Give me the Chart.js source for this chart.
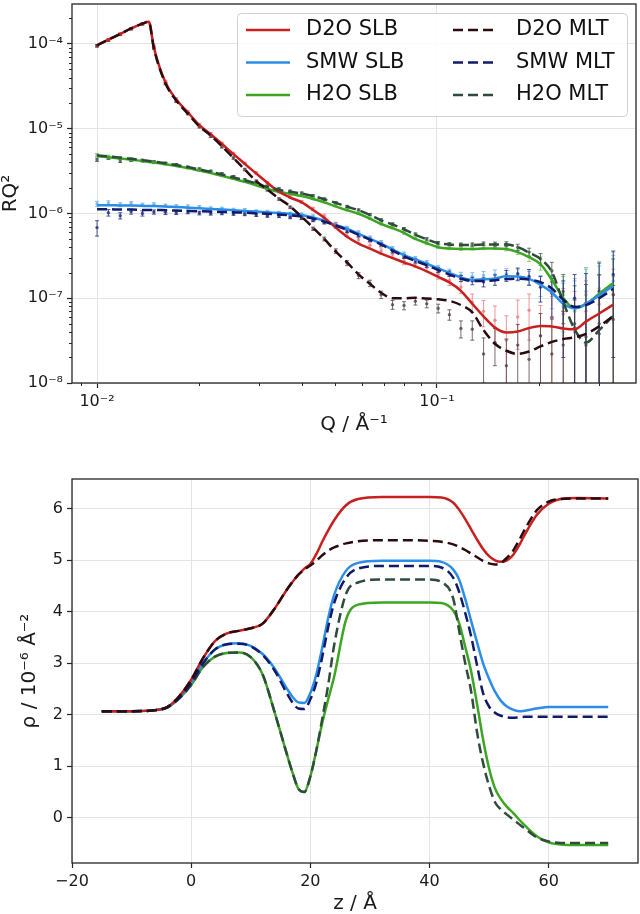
<!DOCTYPE html>
<html>
<head>
<meta charset="utf-8">
<script src="https://cdn.jsdelivr.net/npm/chart.js@4.4.1/dist/chart.umd.min.js"></script>
<style>
  html, body { margin: 0; padding: 0; background: #fff; }
  #wrap { position: relative; width: 640px; height: 914px; }
  #top { position: absolute; left: 0; top: 0; }
  #bottom { position: absolute; left: 0; top: 440px; }
</style>
</head>
<body>
<div id="wrap">
  <canvas id="top" width="640" height="440"></canvas>
  <canvas id="bottom" width="640" height="474"></canvas>
</div>
<script>
// --- reflectivity: model curves (RQ^2 vs Q) ---
const qModel = [0.0100,0.0108,0.0117,0.0126,0.0136,0.0142,0.0147,0.0159,0.0171,0.0185,0.0200,0.0216,0.0233,0.0252,0.0272,0.0294,0.0317,0.0343,0.0370,0.0400,0.0432,0.0466,0.0504,0.0544,0.0588,0.0635,0.0685,0.0740,0.0800,0.0864,0.0933,0.1008,0.1088,0.1176,0.1270,0.1371,0.1481,0.1600,0.1728,0.1866,0.2016,0.2177,0.2352,0.2540,0.2743,0.3000,0.3300];
const d2oSlbFit = [9.6e-5,1.12e-4,1.31e-4,1.52e-4,1.73e-4,1.82e-4,9.0e-5,3.5e-5,2.2e-5,1.56e-5,1.1e-5,8.6e-6,6.6e-6,5.0e-6,3.85e-6,2.95e-6,2.3e-6,1.8e-6,1.54e-6,1.35e-6,1.1e-6,8.9e-7,6.8e-7,5.3e-7,4.4e-7,3.85e-7,3.36e-7,2.98e-7,2.64e-7,2.37e-7,2.07e-7,1.78e-7,1.54e-7,1.22e-7,8.6e-8,6.1e-8,4.5e-8,3.95e-8,4.05e-8,4.45e-8,4.7e-8,4.65e-8,4.4e-8,4.3e-8,5.3e-8,6.6e-8,8.4e-8];
const smwSlbFit = [1.25e-6,1.25e-6,1.24e-6,1.24e-6,1.23e-6,1.22e-6,1.22e-6,1.21e-6,1.19e-6,1.17e-6,1.15e-6,1.13e-6,1.11e-6,1.09e-6,1.07e-6,1.05e-6,1.03e-6,1.01e-6,9.9e-7,9.6e-7,8.97e-7,8.2e-7,7.3e-7,6.6e-7,5.75e-7,5.0e-7,4.4e-7,3.76e-7,3.23e-7,2.86e-7,2.55e-7,2.25e-7,1.99e-7,1.76e-7,1.65e-7,1.67e-7,1.71e-7,1.81e-7,1.8e-7,1.69e-7,1.44e-7,1.17e-7,8.6e-8,7.6e-8,8.6e-8,1.08e-7,1.4e-7];
const h2oSlbFit = [4.75e-6,4.6e-6,4.45e-6,4.3e-6,4.15e-6,4.05e-6,3.98e-6,3.8e-6,3.62e-6,3.42e-6,3.2e-6,3.0e-6,2.78e-6,2.56e-6,2.36e-6,2.15e-6,1.94e-6,1.8e-6,1.7e-6,1.6e-6,1.48e-6,1.35e-6,1.21e-6,1.09e-6,9.9e-7,8.7e-7,7.5e-7,6.7e-7,5.9e-7,5.0e-7,4.45e-7,4.0e-7,3.85e-7,3.8e-7,3.8e-7,3.85e-7,3.87e-7,3.8e-7,3.5e-7,3.05e-7,2.53e-7,1.65e-7,1.01e-7,7.6e-8,8.5e-8,1.13e-7,1.51e-7];
const d2oMltFit = [9.6e-5,1.12e-4,1.31e-4,1.52e-4,1.73e-4,1.82e-4,8.8e-5,3.4e-5,2.15e-5,1.5e-5,1.06e-5,8.3e-6,6.2e-6,4.5e-6,3.3e-6,2.4e-6,1.91e-6,1.5e-6,1.21e-6,9.1e-7,6.8e-7,5.0e-7,3.55e-7,2.64e-7,1.91e-7,1.48e-7,1.16e-7,1.0e-7,1.0e-7,1.01e-7,9.9e-8,9.7e-8,9.3e-8,8.3e-8,6.8e-8,4.2e-8,2.9e-8,2.4e-8,2.2e-8,2.35e-8,2.7e-8,3.05e-8,3.3e-8,3.45e-8,3.8e-8,4.65e-8,6.2e-8];
const smwMltFit = [1.12e-6,1.12e-6,1.11e-6,1.11e-6,1.1e-6,1.1e-6,1.1e-6,1.09e-6,1.08e-6,1.07e-6,1.06e-6,1.05e-6,1.04e-6,1.03e-6,1.02e-6,1.0e-6,9.9e-7,9.7e-7,9.5e-7,9.2e-7,8.7e-7,8.0e-7,7.2e-7,6.4e-7,5.6e-7,4.9e-7,4.3e-7,3.65e-7,3.12e-7,2.75e-7,2.45e-7,2.15e-7,1.9e-7,1.7e-7,1.6e-7,1.6e-7,1.63e-7,1.68e-7,1.7e-7,1.66e-7,1.55e-7,1.3e-7,9.6e-8,7.9e-8,8.3e-8,1.0e-7,1.29e-7];
const h2oMltFit = [4.85e-6,4.7e-6,4.55e-6,4.4e-6,4.25e-6,4.15e-6,4.08e-6,3.9e-6,3.72e-6,3.52e-6,3.31e-6,3.1e-6,2.88e-6,2.66e-6,2.46e-6,2.26e-6,2.05e-6,1.9e-6,1.8e-6,1.72e-6,1.6e-6,1.47e-6,1.33e-6,1.2e-6,1.09e-6,9.6e-7,8.3e-7,7.4e-7,6.5e-7,5.6e-7,4.95e-7,4.45e-7,4.3e-7,4.25e-7,4.25e-7,4.3e-7,4.3e-7,4.3e-7,4.0e-7,3.45e-7,2.9e-7,2.05e-7,9.0e-8,4.3e-8,3.0e-8,4.2e-8,6.2e-8];

// --- reflectivity: measured points with errors ---
const qData = [0.0100,0.0108,0.0117,0.0126,0.0136,0.0147,0.0159,0.0171,0.0185,0.0200,0.0216,0.0233,0.0252,0.0272,0.0294,0.0317,0.0343,0.0370,0.0400,0.0432,0.0466,0.0504,0.0544,0.0588,0.0635,0.0685,0.0740,0.0800,0.0864,0.0933,0.1008,0.1088,0.1176,0.1270,0.1371,0.1481,0.1600,0.1728,0.1866,0.2016,0.2177,0.2352,0.2540,0.2743,0.3000,0.3300];
const d2oSlbData = [9.4e-5,1.10e-4,1.29e-4,1.50e-4,1.71e-4,9.4e-5,3.6e-5,2.25e-5,1.58e-5,1.12e-5,8.7e-6,6.7e-6,5.1e-6,3.9e-6,3.0e-6,2.3e-6,1.82e-6,1.56e-6,1.37e-6,1.13e-6,9.3e-7,7.3e-7,5.9e-7,4.9e-7,4.2e-7,3.6e-7,3.3e-7,2.75e-7,2.55e-7,2.3e-7,1.9e-7,1.62e-7,1.35e-7,9.0e-8,7.0e-8,5.5e-8,3.2e-8,6.0e-8,7.2e-8,3.6e-8,5.8e-8,6.5e-8,4.0e-8,7.0e-8,8.5e-8,1.1e-7];
const d2oSlbErr = [3e-6,3.5e-6,4e-6,4.5e-6,5e-6,3e-6,1.1e-6,7e-7,4.5e-7,3.4e-7,2.6e-7,2e-7,1.6e-7,1.2e-7,9e-8,7e-8,6e-8,5.5e-8,5e-8,5e-8,5e-8,5e-8,4.5e-8,4e-8,3.5e-8,3.2e-8,3e-8,2.7e-8,2.5e-8,2.3e-8,2.2e-8,2.1e-8,2.1e-8,2.2e-8,2.4e-8,2.6e-8,3e-8,3.5e-8,4e-8,4.6e-8,5.5e-8,6.5e-8,8e-8,9e-8,1.0e-7,1.1e-7];
const smwSlbData = [1.30e-6,1.33e-6,1.27e-6,1.31e-6,1.26e-6,1.28e-6,1.24e-6,1.22e-6,1.21e-6,1.19e-6,1.15e-6,1.14e-6,1.11e-6,1.10e-6,1.06e-6,1.05e-6,1.02e-6,1.0e-6,9.8e-7,9.3e-7,8.5e-7,7.6e-7,6.8e-7,6.0e-7,5.2e-7,4.6e-7,3.9e-7,3.35e-7,2.95e-7,2.65e-7,2.3e-7,2.05e-7,1.85e-7,1.8e-7,1.85e-7,1.9e-7,1.95e-7,1.9e-7,1.75e-7,1.45e-7,1.3e-7,8.0e-8,7.0e-8,1.2e-7,1.1e-7,1.6e-7];
const smwSlbErr = [9e-8,8e-8,7e-8,7e-8,6e-8,6e-8,5e-8,5e-8,5e-8,4.5e-8,4.5e-8,4.5e-8,4e-8,4e-8,4e-8,3.8e-8,3.6e-8,3.5e-8,3.4e-8,3.2e-8,3e-8,2.8e-8,2.6e-8,2.4e-8,2.2e-8,2e-8,1.8e-8,1.6e-8,1.5e-8,1.4e-8,1.4e-8,1.5e-8,1.7e-8,2e-8,2.2e-8,2.5e-8,2.8e-8,3e-8,3.2e-8,4e-8,5.5e-8,7e-8,9e-8,1.1e-7,1.3e-7,1.6e-7];
const h2oSlbData = [4.9e-6,4.7e-6,4.5e-6,4.4e-6,4.2e-6,4.0e-6,3.85e-6,3.7e-6,3.45e-6,3.25e-6,3.05e-6,2.8e-6,2.6e-6,2.4e-6,2.2e-6,1.98e-6,1.8e-6,1.72e-6,1.64e-6,1.5e-6,1.37e-6,1.23e-6,1.11e-6,1.0e-6,8.8e-7,7.6e-7,6.8e-7,5.9e-7,5.1e-7,4.5e-7,4.05e-7,3.9e-7,3.85e-7,3.9e-7,3.95e-7,4.0e-7,3.9e-7,3.6e-7,3.1e-7,2.6e-7,1.6e-7,1.1e-7,8.0e-8,1.1e-7,1.3e-7,1.8e-7];
const h2oSlbErr = [2e-7,1.8e-7,1.7e-7,1.6e-7,1.5e-7,1.4e-7,1.3e-7,1.2e-7,1.1e-7,1.0e-7,9e-8,8.5e-8,8e-8,7.5e-8,7e-8,6.5e-8,6e-8,5.5e-8,5e-8,4.6e-8,4.2e-8,3.8e-8,3.4e-8,3.1e-8,2.8e-8,2.5e-8,2.3e-8,2.1e-8,1.9e-8,1.8e-8,1.7e-8,1.7e-8,1.8e-8,1.9e-8,2.1e-8,2.4e-8,2.8e-8,3.3e-8,3.9e-8,4.6e-8,5.5e-8,7e-8,9e-8,1.1e-7,1.4e-7,1.7e-7];
const d2oMltData = [9.5e-5,1.11e-4,1.30e-4,1.51e-4,1.72e-4,8.9e-5,3.4e-5,2.1e-5,1.5e-5,1.05e-5,8.1e-6,6.1e-6,4.5e-6,3.3e-6,2.4e-6,1.9e-6,1.48e-6,1.18e-6,8.9e-7,6.6e-7,5.0e-7,3.6e-7,2.6e-7,1.85e-7,1.5e-7,1.1e-7,8.4e-8,8.2e-8,9.2e-8,8.6e-8,7.6e-8,6.4e-8,4.4e-8,4.3e-8,2.2e-8,3.0e-8,1.6e-8,2.8e-8,1.9e-8,3.6e-8,2.2e-8,2.8e-8,4.5e-8,2.8e-8,3.8e-8,5.6e-8];
const d2oMltErr = [3e-6,3.5e-6,4e-6,4.5e-6,5e-6,3e-6,1.1e-6,7e-7,4.5e-7,3.3e-7,2.5e-7,1.9e-7,1.5e-7,1.1e-7,8e-8,6.5e-8,5e-8,4.2e-8,3.5e-8,3e-8,2.6e-8,2.2e-8,1.8e-8,1.5e-8,1.3e-8,1.1e-8,1.0e-8,9e-9,9e-9,9e-9,9e-9,9e-9,1.0e-8,1.1e-8,1.2e-8,1.4e-8,1.7e-8,2.1e-8,2.5e-8,3.0e-8,3.5e-8,4.2e-8,5e-8,6e-8,7e-8,8.5e-8];
const smwMltData = [6.8e-7,1.02e-6,9.4e-7,1.05e-6,1.0e-6,1.04e-6,1.03e-6,1.02e-6,1.04e-6,1.01e-6,1.0e-6,1.01e-6,9.9e-7,9.8e-7,9.6e-7,9.4e-7,9.3e-7,9.0e-7,8.8e-7,8.3e-7,7.8e-7,7.0e-7,6.2e-7,5.5e-7,4.9e-7,4.3e-7,3.6e-7,3.1e-7,2.75e-7,2.45e-7,2.15e-7,1.95e-7,1.72e-7,1.6e-7,1.55e-7,1.65e-7,1.85e-7,1.95e-7,1.8e-7,1.35e-7,1.15e-7,9.0e-8,1.0e-7,8.5e-8,1.2e-7,1.9e-7];
const smwMltErr = [1.4e-7,9e-8,8e-8,7e-8,7e-8,6e-8,6e-8,5e-8,5e-8,5e-8,4.5e-8,4.5e-8,4e-8,4e-8,4e-8,3.8e-8,3.6e-8,3.5e-8,3.4e-8,3.2e-8,3e-8,2.8e-8,2.6e-8,2.4e-8,2.2e-8,2e-8,1.8e-8,1.6e-8,1.5e-8,1.4e-8,1.4e-8,1.4e-8,1.4e-8,1.6e-8,1.9e-8,2.3e-8,2.7e-8,3.2e-8,3.8e-8,4.5e-8,5.5e-8,7e-8,9e-8,1.1e-7,1.4e-7,1.7e-7];
const h2oMltData = [4.3e-6,4.5e-6,4.15e-6,4.25e-6,4.2e-6,4.05e-6,3.9e-6,3.75e-6,3.5e-6,3.35e-6,3.15e-6,2.95e-6,2.72e-6,2.5e-6,2.3e-6,2.1e-6,1.95e-6,1.83e-6,1.74e-6,1.62e-6,1.48e-6,1.34e-6,1.21e-6,1.1e-6,9.7e-7,8.4e-7,7.5e-7,6.6e-7,5.7e-7,5.0e-7,4.5e-7,4.35e-7,4.3e-7,4.3e-7,4.4e-7,4.35e-7,4.35e-7,4.0e-7,3.5e-7,2.9e-7,2.1e-7,1.2e-7,5.0e-8,3.5e-8,5.0e-8,1.1e-7];
const h2oMltErr = [2e-7,1.8e-7,1.7e-7,1.6e-7,1.5e-7,1.4e-7,1.3e-7,1.2e-7,1.1e-7,1.0e-7,9e-8,8.5e-8,8e-8,7.5e-8,7e-8,6.5e-8,6e-8,5.5e-8,5e-8,4.6e-8,4.2e-8,3.8e-8,3.4e-8,3.1e-8,2.8e-8,2.5e-8,2.3e-8,2.1e-8,1.9e-8,1.8e-8,1.7e-8,1.7e-8,1.8e-8,1.9e-8,2.1e-8,2.4e-8,2.8e-8,3.3e-8,3.9e-8,4.6e-8,5.5e-8,7e-8,9e-8,1.1e-7,1.4e-7,1.8e-7];

// --- SLD profiles (rho vs z) ---
const zProfile = [-15,-10,-6,-4,-2,0,2,4,6,8,10,12,14,16,17,18,19,20,21,22,23,24,26,28,32,36,40,42,44,45,46,47,48,49,50,51,52,53,54,55,56,58,60,62,65,70];
const d2oSlbSld = [2.07,2.07,2.09,2.15,2.36,2.68,3.1,3.43,3.58,3.63,3.68,3.77,4.06,4.42,4.58,4.72,4.84,4.93,5.12,5.36,5.58,5.78,6.07,6.19,6.23,6.23,6.23,6.22,6.12,5.98,5.8,5.6,5.4,5.22,5.08,5.0,4.97,5.0,5.1,5.28,5.5,5.88,6.1,6.19,6.21,6.2];
const smwSlbSld = [2.07,2.07,2.09,2.15,2.33,2.62,3.0,3.27,3.37,3.39,3.34,3.18,2.9,2.52,2.35,2.24,2.23,2.42,2.78,3.3,3.88,4.33,4.8,4.95,4.99,4.99,4.99,4.97,4.82,4.62,4.25,3.82,3.4,3.0,2.7,2.45,2.27,2.16,2.1,2.07,2.08,2.12,2.15,2.15,2.15,2.15];
const h2oSlbSld = [2.07,2.07,2.09,2.14,2.32,2.58,2.93,3.13,3.2,3.21,3.12,2.78,2.05,1.26,0.88,0.56,0.5,0.8,1.3,1.84,2.3,2.74,3.85,4.14,4.18,4.18,4.18,4.17,4.02,3.77,3.32,2.84,2.2,1.52,0.96,0.57,0.36,0.21,0.1,-0.03,-0.15,-0.36,-0.48,-0.52,-0.53,-0.53];
const d2oMltSld = [2.07,2.07,2.09,2.15,2.36,2.68,3.1,3.43,3.58,3.63,3.68,3.77,4.06,4.42,4.58,4.72,4.82,4.9,4.99,5.1,5.19,5.25,5.33,5.37,5.39,5.39,5.38,5.36,5.31,5.26,5.2,5.13,5.06,4.99,4.94,4.92,4.95,5.05,5.18,5.38,5.6,5.97,6.14,6.19,6.2,6.2];
const smwMltSld = [2.07,2.07,2.09,2.15,2.33,2.62,3.0,3.27,3.37,3.38,3.33,3.16,2.86,2.43,2.24,2.12,2.11,2.3,2.62,3.12,3.7,4.17,4.66,4.84,4.89,4.89,4.89,4.86,4.66,4.38,3.98,3.52,2.95,2.42,2.16,2.04,1.98,1.95,1.94,1.95,1.96,1.96,1.96,1.96,1.96,1.96];
const h2oMltSld = [2.07,2.07,2.09,2.14,2.32,2.58,2.93,3.13,3.2,3.21,3.12,2.78,2.05,1.26,0.88,0.56,0.5,0.8,1.3,1.92,2.58,3.35,4.35,4.57,4.63,4.63,4.63,4.58,4.25,3.62,3.0,2.45,1.65,1.06,0.62,0.3,0.16,0.06,-0.03,-0.12,-0.21,-0.38,-0.46,-0.49,-0.49,-0.49];

// --- names and ticks ---
const seriesNames = ['D2O SLB', 'SMW SLB', 'H2O SLB', 'D2O MLT', 'SMW MLT', 'H2O MLT'];
const qTicks = [0.01, 0.1];
const qTickLabels = ['10⁻²', '10⁻¹'];
const rTicks = [1e-8, 1e-7, 1e-6, 1e-5, 1e-4];
const rTickLabels = ['10⁻⁸', '10⁻⁷', '10⁻⁶', '10⁻⁵', '10⁻⁴'];
const zTicks = [-20, 0, 20, 40, 60];
const zTickLabels = ['−20', '0', '20', '40', '60'];
const rhoTicks = [0, 1, 2, 3, 4, 5, 6];

const lineColors = ['#c91f1f', '#2b8de6', '#3ca522', '#2a0c0e', '#0f1a6b', '#2e4b3b'];
const dataColors = ['rgba(232,124,128,0.8)', 'rgba(112,182,238,0.85)', 'rgba(128,196,104,0.85)',
                    'rgba(78,60,64,0.75)', 'rgba(34,44,128,0.8)', 'rgba(52,88,66,0.75)'];

Chart.defaults.font.family = '"DejaVu Sans", sans-serif';
Chart.defaults.color = '#1a1a1a';

function pts(xs, ys) {
    return xs.map((x, i) => ({ x: x, y: ys[i] }));
}

// frame on all four sides
const frame = {
    id: 'frame',
    afterDraw(chart) {
        const { ctx, chartArea: a } = chart;
        ctx.save();
        ctx.strokeStyle = '#262626';
        ctx.lineWidth = 1.3;
        ctx.strokeRect(a.left, a.top, a.right - a.left, a.bottom - a.top);
        ctx.restore();
    }
};

// small ticks between decades on log axes
const minorTicks = {
    id: 'minorTicks',
    afterDraw(chart) {
        const { ctx, chartArea: a, scales: { x, y } } = chart;
        ctx.save();
        ctx.strokeStyle = '#262626';
        ctx.lineWidth = 1;
        ctx.beginPath();
        for (let e = -9; e <= -1; e++) {
            for (let m = 2; m <= 9; m++) {
                const v = m * Math.pow(10, e);
                if (v > x.min && v < x.max) {
                    const px = Math.round(x.getPixelForValue(v)) + 0.5;
                    ctx.moveTo(px, a.bottom); ctx.lineTo(px, a.bottom + 3);
                }
                if (v > y.min && v < y.max) {
                    const py = Math.round(y.getPixelForValue(v)) + 0.5;
                    ctx.moveTo(a.left, py); ctx.lineTo(a.left - 3, py);
                }
            }
        }
        ctx.stroke();
        ctx.restore();
    }
};

// vertical error bars with caps
const errorBars = {
    id: 'errorBars',
    afterDatasetDraw(chart, args) {
        const ds = chart.data.datasets[args.index];
        if (!ds.errors) return;
        const { ctx, chartArea: a, scales: { x, y } } = chart;
        ctx.save();
        ctx.beginPath();
        ctx.rect(a.left, a.top, a.right - a.left, a.bottom - a.top);
        ctx.clip();
        ctx.strokeStyle = ds.borderColor;
        ctx.lineWidth = 1;
        ctx.beginPath();
        ds.data.forEach((p, i) => {
            const e = ds.errors[i];
            const px = x.getPixelForValue(p.x);
            const hi = y.getPixelForValue(p.y + e);
            const lo = p.y - e > 0 ? y.getPixelForValue(p.y - e) : a.bottom + 4;
            ctx.moveTo(px, hi); ctx.lineTo(px, lo);
            ctx.moveTo(px - 2, hi); ctx.lineTo(px + 2, hi);
            ctx.moveTo(px - 2, lo); ctx.lineTo(px + 2, lo);
        });
        ctx.stroke();
        ctx.restore();
    }
};

// legend box, two columns
const legendBox = {
    id: 'legendBox',
    afterDraw(chart) {
        const ctx = chart.ctx;
        const fits = chart.data.datasets.filter(d => d.fit);
        ctx.save();
        ctx.beginPath();
        ctx.roundRect(237.5, 13.5, 390, 103, 4);
        ctx.fillStyle = 'rgba(255,255,255,0.85)';
        ctx.fill();
        ctx.strokeStyle = '#d0d0d0';
        ctx.lineWidth = 1;
        ctx.stroke();
        const lineX = [246, 453], lineLen = [44, 40], textX = [306, 516];
        fits.forEach((d, i) => {
            const col = i < 3 ? 0 : 1;
            const y = 30 + (i % 3) * 32.5;
            ctx.strokeStyle = d.borderColor;
            ctx.lineWidth = 2.5;
            ctx.setLineDash(d.borderDash);
            ctx.beginPath();
            ctx.moveTo(lineX[col], y);
            ctx.lineTo(lineX[col] + lineLen[col], y);
            ctx.stroke();
            ctx.setLineDash([]);
            ctx.fillStyle = '#111';
            ctx.font = '21px "DejaVu Sans"';
            ctx.textBaseline = 'middle';
            ctx.fillText(d.label, textX[col], y);
        });
        ctx.restore();
    }
};

const gridOpts = { color: '#e4e4e4', lineWidth: 1, tickColor: '#262626', tickLength: 5, tickWidth: 1.2 };

// ---------- top chart ----------
const fits = [d2oSlbFit, smwSlbFit, h2oSlbFit, d2oMltFit, smwMltFit, h2oMltFit];
const meas = [d2oSlbData, smwSlbData, h2oSlbData, d2oMltData, smwMltData, h2oMltData];
const errs = [d2oSlbErr, smwSlbErr, h2oSlbErr, d2oMltErr, smwMltErr, h2oMltErr];

const topSets = [];
fits.forEach((f, i) => topSets.push({
    label: seriesNames[i],
    data: pts(qModel, f),
    showLine: true,
    fit: true,
    borderColor: lineColors[i],
    borderWidth: 2.5,
    borderDash: i >= 3 ? [10, 5] : [],
    pointRadius: 0,
    cubicInterpolationMode: 'monotone',
    order: i >= 3 ? 0 : 1
}));
meas.forEach((m, i) => topSets.push({
    label: seriesNames[i] + ' data',
    data: pts(qData, m),
    errors: errs[i],
    showLine: false,
    borderColor: dataColors[i],
    pointBackgroundColor: dataColors[i],
    pointBorderWidth: 0,
    pointRadius: 1.7,
    order: i >= 3 ? 2 : 3
}));

new Chart(document.getElementById('top'), {
    type: 'scatter',
    data: { datasets: topSets },
    plugins: [errorBars, frame, minorTicks, legendBox],
    options: {
        responsive: false,
        animation: false,
        devicePixelRatio: 1,
        events: [],
        layout: { padding: { left: 0, top: 1, right: 4, bottom: 0 } },
        plugins: { legend: { display: false }, tooltip: { enabled: false } },
        scales: {
            x: {
                type: 'logarithmic',
                min: 0.00844, max: 0.385,
                afterBuildTicks: s => { s.ticks = qTicks.map(v => ({ value: v })); },
                afterFit: s => { s.height = 57; s.paddingLeft = 0; s.paddingRight = 0; },
                grid: gridOpts,
                border: { display: false },
                ticks: { font: { size: 16 }, padding: 4, maxRotation: 0, autoSkip: false,
                         callback: (v, i) => qTickLabels[i] },
                title: { display: true, text: 'Q / Å⁻¹', font: { size: 20, lineHeight: 1 },
                         padding: { top: 0, bottom: 5 } }
            },
            y: {
                type: 'logarithmic',
                min: 1e-8, max: 2.95e-4,
                afterBuildTicks: s => { s.ticks = rTicks.map(v => ({ value: v })); },
                afterFit: s => { s.width = 72; s.paddingTop = 0; s.paddingBottom = 0; },
                grid: gridOpts,
                border: { display: false },
                ticks: { font: { size: 16 }, padding: 4, autoSkip: false,
                         callback: (v, i) => rTickLabels[i] },
                title: { display: true, text: 'RQ²', font: { size: 20, lineHeight: 1 },
                         padding: { top: 1, bottom: 0 } }
            }
        }
    }
});

// ---------- bottom chart ----------
const profiles = [d2oSlbSld, smwSlbSld, h2oSlbSld, d2oMltSld, smwMltSld, h2oMltSld];
const bottomSets = profiles.map((p, i) => ({
    label: seriesNames[i],
    data: pts(zProfile, p),
    showLine: true,
    borderColor: lineColors[i],
    borderWidth: 2.5,
    borderDash: i >= 3 ? [10, 5] : [],
    pointRadius: 0,
    cubicInterpolationMode: 'monotone',
    order: i >= 3 ? 0 : 1
}));

new Chart(document.getElementById('bottom'), {
    type: 'scatter',
    data: { datasets: bottomSets },
    plugins: [frame],
    options: {
        responsive: false,
        animation: false,
        devicePixelRatio: 1,
        events: [],
        layout: { padding: { left: 0, top: 39, right: 2, bottom: 0 } },
        plugins: { legend: { display: false }, tooltip: { enabled: false } },
        scales: {
            x: {
                type: 'linear',
                min: -20, max: 75,
                afterBuildTicks: s => { s.ticks = zTicks.map(v => ({ value: v })); },
                afterFit: s => { s.height = 51; },
                grid: gridOpts,
                border: { display: false },
                ticks: { font: { size: 16 }, padding: 4, maxRotation: 0, autoSkip: false,
                         callback: (v, i) => zTickLabels[i] },
                title: { display: true, text: 'z / Å', font: { size: 20, lineHeight: 1 },
                         padding: { top: 0, bottom: 0 } }
            },
            y: {
                type: 'linear',
                min: -0.88, max: 6.58,
                afterBuildTicks: s => { s.ticks = rhoTicks.map(v => ({ value: v })); },
                afterFit: s => { s.width = 72; },
                grid: gridOpts,
                border: { display: false },
                ticks: { font: { size: 16 }, padding: 4, autoSkip: false,
                         callback: (v, i) => String(rhoTicks[i]) },
                title: { display: true, text: 'ρ / 10⁻⁶ Å⁻²', font: { size: 20, lineHeight: 1 },
                         padding: { top: 20, bottom: 0 } }
            }
        }
    }
});
</script>
</body>
</html>
